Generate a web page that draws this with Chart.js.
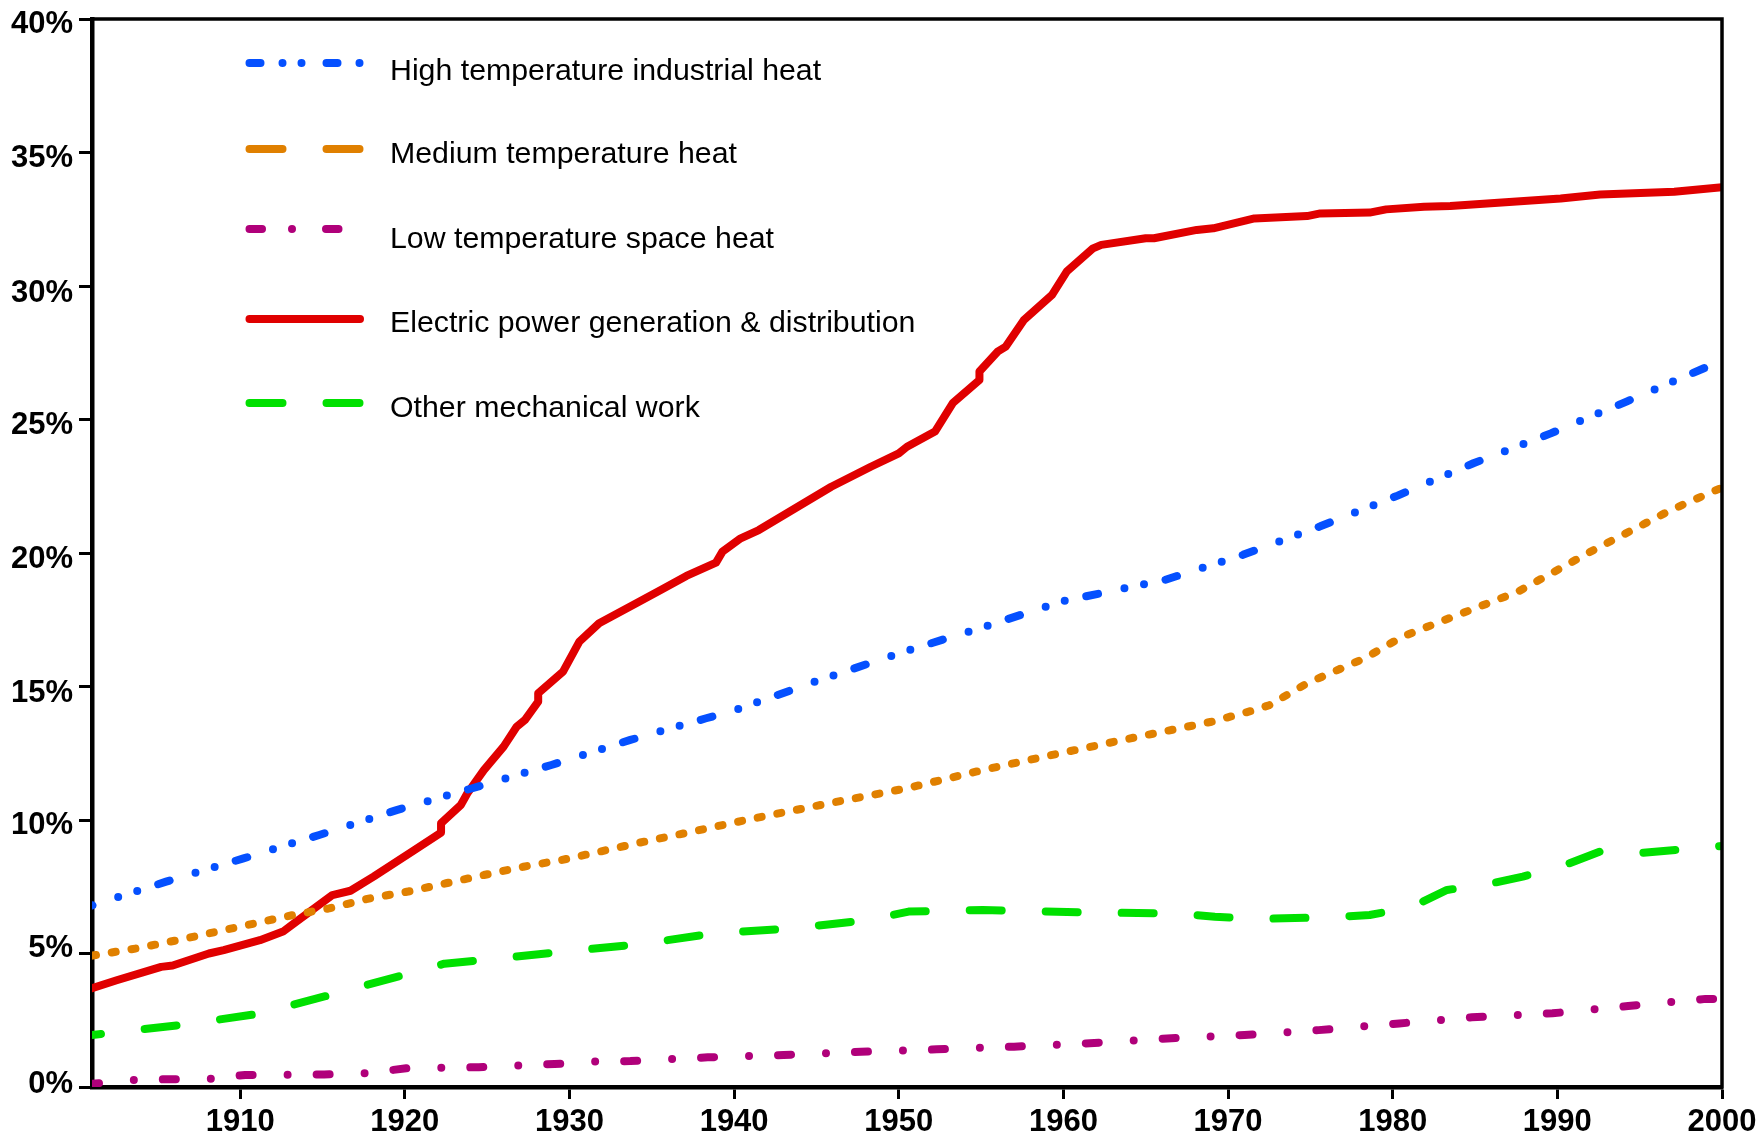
<!DOCTYPE html>
<html>
<head>
<meta charset="utf-8">
<script src="https://cdn.jsdelivr.net/npm/chart.js@4.4.1/dist/chart.umd.min.js"></script>
<style>
  html, body { margin: 0; padding: 0; background: #fff; }
  #wrap { width: 1757px; height: 1138px; }
</style>
</head>
<body>
<div id="wrap"><canvas id="energyChart"></canvas></div>
<script>
// axis ticks
const xTicks = [1910, 1920, 1930, 1940, 1950, 1960, 1970, 1980, 1990, 2000];
const yTicks = [0, 5, 10, 15, 20, 25, 30, 35, 40];
const yTickLabels = ["0%", "5%", "10%", "15%", "20%", "25%", "30%", "35%", "40%"];
// the labels in the original sit a few px off their tick marks (px, + = down)
const yLabelNudge = [-3, -5, 5.5, 7, 6.5, 5.5, 7, 6, 5.5];

// series labels
const labels = [
  "High temperature industrial heat",
  "Medium temperature heat",
  "Low temperature space heat",
  "Electric power generation & distribution",
  "Other mechanical work",
];

// High temperature industrial heat
const highYears = [1901, 1905.5, 1910.2, 1914.8, 1919.5, 1924.1, 1928.9, 1933.7, 1938.3, 1940, 1945, 1950, 1955, 1960, 1966.2, 1970.9, 1975.6, 1980.3, 1984.9, 1989.6, 1994.2, 1998.9, 2000];
const highValues = [6.8, 7.69, 8.56, 9.44, 10.37, 11.19, 12.06, 13.0, 13.81, 14.1, 15.2, 16.24, 17.2, 18.2, 19.0, 19.93, 21.0, 22.15, 23.36, 24.48, 25.67, 26.92, 27.15];

// Medium temperature heat
const mediumYears = [1901, 1903.7, 1906.2, 1908.6, 1910.9, 1913.2, 1915.4, 1917.9, 1920.2, 1922.5, 1924.8, 1927.2, 1929.5, 1931.8, 1934.1, 1936.5, 1941.2, 1945.8, 1950.5, 1955.1, 1959.8, 1964.4, 1969.0, 1971.5, 1972.5, 1974.8, 1978.3, 1980.6, 1982.9, 1987.6, 1992.2, 1996.9, 2000];
const mediumValues = [4.92, 5.19, 5.5, 5.82, 6.13, 6.44, 6.69, 7.07, 7.32, 7.63, 7.94, 8.25, 8.5, 8.81, 9.13, 9.44, 10.06, 10.63, 11.19, 11.87, 12.5, 13.1, 13.68, 14.1, 14.3, 15.12, 16.06, 16.87, 17.43, 18.55, 20.11, 21.61, 22.45];

// Low temperature space heat
const lowYears = [1901, 1903.5, 1905.6, 1908.2, 1910.3, 1915.1, 1917.5, 1920.1, 1924.5, 1926.8, 1929.1, 1931.4, 1933.7, 1938.4, 1943.0, 1947.7, 1952.3, 1957.0, 1961.6, 1966.3, 1971.0, 1975.5, 1980.4, 1984.8, 1989.7, 1994.3, 1999.0, 2000];
const lowValues = [0.12, 0.26, 0.29, 0.31, 0.45, 0.47, 0.51, 0.7, 0.74, 0.8, 0.86, 0.95, 0.97, 1.11, 1.2, 1.32, 1.41, 1.51, 1.64, 1.82, 1.95, 2.13, 2.38, 2.61, 2.76, 3.03, 3.3, 3.3];

// Electric power generation & distribution
const electricYears = [1901, 1902.5, 1905.2, 1905.9, 1908.1, 1909.0, 1911.2, 1912.6, 1913.4, 1915.6, 1916.7, 1918.1, 1920.6, 1922.2, 1922.2, 1923.4, 1923.8, 1924.8, 1926.0, 1926.8, 1927.3, 1928.1, 1928.1, 1929.6, 1930.6, 1931.8, 1934.0, 1935.6, 1937.1, 1938.9, 1939.3, 1940.4, 1941.5, 1945.9, 1948.3, 1950.0, 1950.5, 1952.2, 1953.3, 1954.9, 1954.9, 1956.0, 1956.5, 1957.6, 1959.3, 1960.2, 1961.8, 1962.3, 1965.0, 1965.5, 1968.1, 1969.1, 1971.6, 1974.8, 1975.6, 1978.6, 1979.6, 1981.9, 1983.5, 1990.2, 1992.6, 1997.1, 2000];
const electricValues = [3.7, 4.0, 4.5, 4.55, 5.0, 5.13, 5.5, 5.82, 6.19, 7.19, 7.35, 7.88, 8.88, 9.53, 9.88, 10.56, 11.0, 11.87, 12.75, 13.5, 13.75, 14.43, 14.75, 15.55, 16.68, 17.37, 18.1, 18.63, 19.14, 19.64, 20.06, 20.55, 20.86, 22.48, 23.23, 23.73, 23.98, 24.55, 25.63, 26.48, 26.8, 27.54, 27.73, 28.73, 29.66, 30.54, 31.41, 31.54, 31.79, 31.79, 32.1, 32.16, 32.53, 32.62, 32.72, 32.75, 32.87, 32.97, 33.0, 33.28, 33.43, 33.53, 33.7];

// Other mechanical work
const otherYears = [1901, 1906.4, 1911.2, 1915.6, 1920.2, 1922.4, 1924.9, 1929.6, 1934.2, 1938.8, 1943.5, 1948.1, 1950.6, 1955.1, 1957.7, 1962.3, 1966.9, 1969.2, 1971.7, 1976.2, 1978.6, 1981.1, 1983.3, 1985.7, 1987.9, 1990.3, 1992.6, 1994.9, 1997.2, 2000];
const otherValues = [1.95, 2.32, 2.75, 3.47, 4.24, 4.62, 4.76, 5.07, 5.34, 5.76, 5.94, 6.25, 6.57, 6.63, 6.59, 6.53, 6.5, 6.38, 6.29, 6.36, 6.44, 6.73, 7.38, 7.59, 7.88, 8.28, 8.82, 8.76, 8.88, 9.03];

const FONT = '"Liberation Sans", Arial, Helvetica, sans-serif';
const PX_PER_UNIT = 1068 / 40; // plot height / y range

const toPoints = (years, values) => years.map((yr, i) => ({ x: yr, y: values[i] }));

function makeLine(label, years, values, color, dash, dashOffset, legendDash, legendY, textY, order) {
  return {
    label,
    data: toPoints(years, values),
    yAxisID: "y",
    borderColor: color,
    backgroundColor: color,
    borderWidth: 8,
    borderDash: dash,
    borderDashOffset: dashOffset,
    borderCapStyle: "round",
    borderJoinStyle: "round",
    pointRadius: 0,
    tension: 0,
    fill: false,
    order,
    legendDash,
    legendY,
    textY,
  };
}

// legend drawn inside the plot, one row per series
const insideLegend = {
  id: "insideLegend",
  afterDraw(chart) {
    const { ctx } = chart;
    ctx.save();
    chart.data.datasets.forEach((ds) => {
      ctx.beginPath();
      ctx.setLineDash(ds.legendDash);
      ctx.lineCap = "round";
      ctx.lineWidth = 8;
      ctx.strokeStyle = ds.borderColor;
      ctx.moveTo(249.5, ds.legendY);
      ctx.lineTo(360, ds.legendY);
      ctx.stroke();
      ctx.setLineDash([]);
      ctx.fillStyle = "#000";
      ctx.font = "30.3px " + FONT;
      ctx.textAlign = "left";
      ctx.textBaseline = "alphabetic";
      ctx.fillText(ds.label, 390, ds.textY);
    });
    ctx.restore();
  },
};

// thin frame on top and right
const frame = {
  id: "frame",
  afterDraw(chart) {
    const { ctx, chartArea: a } = chart;
    ctx.save();
    ctx.strokeStyle = "#000";
    ctx.lineWidth = 3.5;
    ctx.lineCap = "square";
    ctx.beginPath();
    ctx.moveTo(a.left, a.top);
    ctx.lineTo(a.right, a.top);
    ctx.lineTo(a.right, a.bottom);
    ctx.stroke();
    ctx.restore();
  },
};

document.addEventListener("DOMContentLoaded", () => {
  const ctx = document.getElementById("energyChart").getContext("2d");
  new Chart(ctx, {
    type: "line",
    data: {
      datasets: [
        makeLine(labels[0], highYears, highValues, "#0550ff", [12, 27, 0, 20, 0, 22], 11.5, [11, 22, 0, 19, 0, 25], 63, 80, 0),
        makeLine(labels[1], mediumYears, mediumValues, "#e08000", [4, 16], 0, [33, 44], 149, 163, 0),
        makeLine(labels[2], lowYears, lowValues, "#b0007a", [13, 35, 0, 29], 6, [12.5, 30, 0, 34], 229, 248, 0),
        makeLine(labels[3], electricYears, electricValues, "#e00000", [], 0, [], 319, 332, 10),
        makeLine(labels[4], otherYears, otherValues, "#00e000", [32, 44], 23, [33, 44], 403, 417, 0),
      ],
    },
    options: {
      responsive: true,
      maintainAspectRatio: false,
      animation: false,
      layout: { padding: { top: 19, right: 35, left: 0, bottom: 0 } },
      plugins: {
        legend: { display: false },
        tooltip: { enabled: false },
      },
      scales: {
        x: {
          type: "linear",
          min: 1901,
          max: 2000,
          afterBuildTicks: (s) => {
            s.ticks = xTicks.map((v) => ({ value: v }));
          },
          afterFit: (s) => {
            s.height = 51;
            s.paddingLeft = 0;
            s.paddingRight = 0;
          },
          grid: {
            drawOnChartArea: false,
            drawTicks: true,
            tickLength: 12,
            tickWidth: 3,
            tickColor: "#000",
          },
          border: { display: true, color: "#000", width: 4.5 },
          ticks: {
            color: "#000",
            font: { family: FONT, size: 31, weight: "bold" },
            padding: 5,
            maxRotation: 0,
            autoSkip: false,
            callback: (v) => String(v),
          },
        },
        // tick marks and axis line
        y: {
          position: "left",
          weight: 0,
          min: 0,
          max: 40,
          afterBuildTicks: (s) => {
            s.ticks = yTicks.map((v) => ({ value: v }));
          },
          afterFit: (s) => {
            s.width = 14;
          },
          grid: {
            drawOnChartArea: false,
            drawTicks: true,
            tickLength: 13,
            tickWidth: 3,
            tickColor: "#000",
          },
          border: { display: true, color: "#000", width: 4.5 },
          ticks: { display: false },
        },
        // tick labels only
        yLabels: {
          position: "left",
          weight: 1,
          min: 0,
          max: 40,
          afterBuildTicks: (s) => {
            s.ticks = yTicks.map((v, i) => ({ value: v - yLabelNudge[i] / PX_PER_UNIT }));
          },
          afterFit: (s) => {
            s.width = 78;
            s.paddingTop = 0;
            s.paddingBottom = 0;
          },
          grid: { display: false, drawTicks: false },
          border: { display: false },
          ticks: {
            color: "#000",
            font: { family: FONT, size: 31, weight: "bold" },
            padding: 5,
            autoSkip: false,
            callback: (v, i) => yTickLabels[i],
          },
        },
      },
    },
    plugins: [insideLegend, frame],
  });
});
</script>
</body>
</html>
